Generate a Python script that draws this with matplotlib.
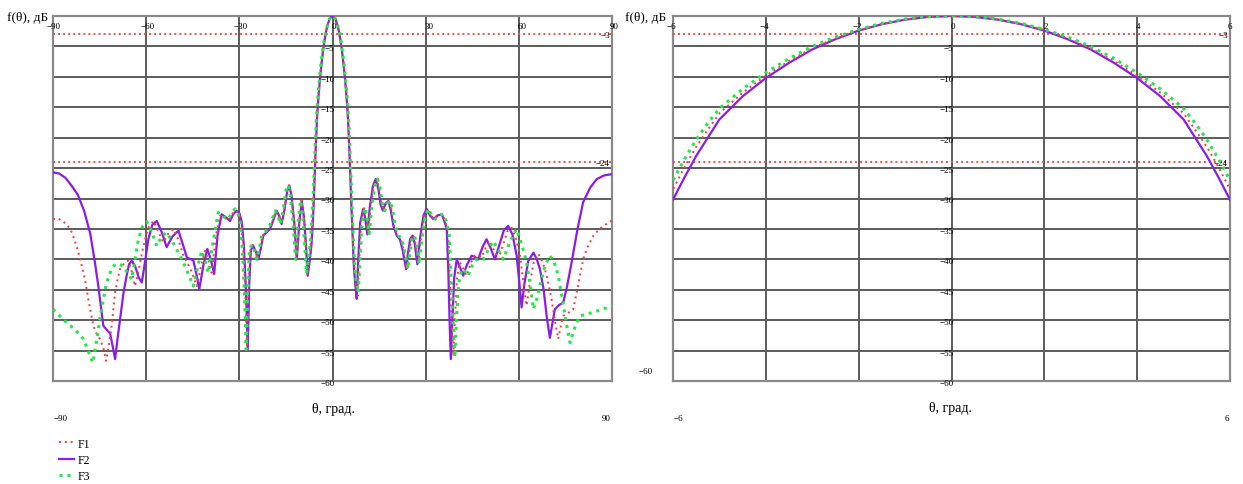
import numpy as np
import matplotlib.pyplot as plt
from matplotlib.lines import Line2D

# F2 (solid violet)
theta_f2 = [-90, -88, -86, -84, -82, -80, -78, -76.5, -75.4, -74.5, -73.8, -72.5, -71.6, -70.7, -70,
            -69.2, -68.4, -67.3, -66.3, -65.5, -64.6, -63.5, -62.4, -61.4, -60.4, -59.3, -58, -56.6,
            -55, -53.4, -51.5, -49.6, -48.2, -46.9, -45.5, -44.8, -43.8, -42.9, -41.5, -40.3, -39.2,
            -38.1, -37, -35.7, -34.5, -33, -32, -30.9, -29.9, -29.2, -28.5, -27.8, -27.3, -26.8, -26.3,
            -25.5, -24.7, -23.9, -23, -22.3, -20.1, -19, -18, -17.2, -16.4, -15.5, -14.6, -13.9, -13.2,
            -12.3, -11.5, -10.7, -9.9, -9.2, -8.5, -8, -7.4, -6.8, -6.4, -6, -5.75, -5.5, -5.25, -5,
            -4.5, -4, -3.5, -3, -2.5, -2, -1.5, -1, -0.5, 0, 0.5, 1, 1.5, 2, 2.5, 3, 3.5, 4, 4.5, 5,
            5.25, 5.5, 5.75, 6, 6.4, 6.8, 7.3, 7.8, 8.3, 8.9, 9.9, 10.6, 11.2, 12, 13, 13.9, 14.8, 15.5,
            16.2, 17.1, 18, 18.8, 19.6, 20.7, 21.7, 22.6, 23.3, 23.7, 24.3, 25, 25.8, 26.5, 27.3, 28.2,
            29.3, 30.3, 31.4, 32.5, 33.8, 35.2, 36.2, 36.8, 37.3, 37.7, 38.1, 38.6, 39.2, 40, 41.2, 42.1,
            43.2, 44.8, 45.8, 46.9, 48.3, 49.6, 50.8, 52.3, 53.8, 55.2, 56.6, 58, 59.3, 60.2, 60.9, 61.8,
            63, 64.7, 65.8, 66.8, 68, 69, 70, 70.8, 71.6, 73, 74.3, 75.5, 77, 78.9, 80.7, 83, 85.1,
            87.5, 90]
db_f2 = [-25.7, -25.9, -26.6, -27.9, -29.4, -32, -35.8, -40.5, -44.4, -48, -50.9, -51.7, -52.2, -54.5, -56.4,
         -53, -49.8, -45.5, -42.7, -40.8, -40.2, -41.2, -43, -43.8, -40.5, -36.7, -34.3, -33.7,
         -35.5, -38, -36.2, -35.3, -37.5, -39.7, -40, -40.2, -42.5, -44.9, -40.8, -38.3, -40,
         -42.4, -36, -32.6, -33, -33.7, -32.6, -32, -32.5, -33.9, -38, -46, -54.8, -44, -38.5,
         -37.8, -38.7, -40, -38, -36.1, -35, -33.5, -32, -32.8, -34.2, -32, -28.8, -27.9, -29.5,
         -34, -40, -34, -30.4, -33, -38, -42.7, -40.5, -37.8, -34.5, -30.2, -26.5, -23, -20, -17,
         -13.2, -10.2, -7.7, -5.5, -3.8, -2.4, -1.35, -0.6, -0.15, 0, -0.15, -0.6, -1.35, -2.4, -3.8, -5.5, -7.7, -10.2, -13.2, -17,
         -20, -23, -26.5, -30.2, -35, -40.5, -44, -46.5, -40, -34, -31.7, -33.5, -35.9, -31.5, -28, -26.8, -28.5, -31,
         -32, -30.8, -30.4, -32, -34.5, -36.1, -36.7, -38.5, -40.5, -41.6, -39, -36.7, -36.1, -37.5, -40.8, -36.5,
         -32.8, -31.7, -32.8, -33.4, -32.8, -32.6, -34, -35, -42, -50, -56.4, -50, -43, -40, -41.5, -42.7,
         -41, -39.4, -39.6, -40, -38, -36.7, -38, -40, -37.5, -35.2, -34.5, -36, -39.4, -44, -47.9, -44,
         -40.3, -38.9, -40, -41.6, -45, -49.5, -52.9, -50.5, -48.2, -47.5, -47.1, -44.5, -40.5, -35, -30.6, -28.2, -26.8,
         -26.2, -26.0]

# F1 (red dotted)
theta_f1 = [-90, -88.3, -85.6, -84, -82.4, -81, -79.7, -78.3, -77, -75.9, -74.9, -73.8, -72.9, -72, -71.1,
            -70, -69, -68.4, -67, -65.7, -64.6, -63.6, -62.3, -60.9, -59.3, -57.7, -56, -54.5, -52.9,
            -51.3, -49.6, -48, -45.8, -43.7, -42.3, -41, -39.9, -38.9, -37.5, -36.2, -34.8, -33.3, -32.2,
            -31.1, -30.1, -29.4, -28.7, -28, -27.5, -27, -26.5, -25.7, -24.9, -24.1, -23.2, -22.5, -20.3,
            -19.1, -18.2, -17.3, -16.5, -15.6, -14.7, -14, -13.3, -12.4, -11.6, -10.8, -10, -9.3, -8.6,
            -8.1, -7.5, -6.9, -6.5, -6, -5.75, -5.5, -5.25, -5, -4.5, -4, -3.5, -3, -2.5, -2, -1.5, -1,
            -0.5, 0, 0.5, 1, 1.5, 2, 2.5, 3, 3.5, 4, 4.5, 5, 5.25, 5.5, 5.75, 6, 6.5, 7, 7.5, 8.1, 8.6,
            9.2, 10.2, 10.9, 11.5, 12.3, 13.3, 14.2, 15.1, 15.8, 16.5, 17.4, 18.3, 19.1, 19.9, 21, 22,
            22.9, 23.6, 24, 24.6, 25.3, 26.1, 26.8, 27.6, 28.5, 29.6, 30.6, 31.7, 32.8, 34.1, 35.5, 36.5,
            37.3, 37.8, 38.3, 38.9, 39.4, 40.1, 41, 42.1, 43.2, 44.6, 45.9, 47, 48, 49.4, 50.7, 52, 53.4,
            55, 56.4, 57.7, 59, 60.4, 61.5, 62.5, 63.5, 64.8, 66.3, 67.7, 69, 70.5, 71.6, 72.7, 73.5,
            74.3, 75.9, 77.5, 79, 80.7, 82.3, 84, 85.6, 87.2, 90]
db_f1 = [-33.4, -33.3, -34.2, -35.5, -37.8, -40.5, -43.3, -47.5, -50.9, -52.3, -53.1, -54.5, -56.7, -54, -50.9,
         -45.4, -42.8, -41.6, -40.6, -40.2, -42, -44.4, -41.5, -37.8, -34.8, -33.7, -35.5, -37.2, -35.8,
         -35, -36.8, -39.4, -41.5, -44.4, -41, -38.6, -40.3, -42.2, -36, -32.8, -33.2, -33.6, -32.5,
         -32, -32.6, -34, -38.5, -46.5, -54.9, -44.5, -38.7, -37.6, -38.5, -40, -38, -36.1, -34.9,
         -33.4, -32, -32.8, -34.2, -32, -28.7, -27.8, -29.5, -34, -40, -34, -30.3, -33, -38,
         -42.5, -40, -37, -33.5, -28.5, -24.8, -21.5, -18.7, -16, -12.6, -9.8, -7.4, -5.3, -3.65, -2.3, -1.3, -0.57,
         -0.14, 0, -0.14, -0.57, -1.3, -2.3, -3.65, -5.3, -7.4, -9.8, -12.6, -16, -18.7, -21.5, -24.8, -28.5, -35.5, -40.8, -44, -46, -40,
         -34, -31.6, -33.5, -35.8, -31.5, -28, -26.8, -28.5, -31, -32, -30.8, -30.4, -32, -34.5, -36.1, -36.7,
         -38.5, -40.5, -41.6, -39, -36.7, -36.1, -37.5, -40.8, -36.5, -32.8, -31.7, -32.8, -33.4, -32.8, -32.6, -34,
         -36, -43, -50, -55.9, -50, -43, -40.5, -41.5, -42.7, -40.5, -39.4, -39.5, -39.7, -38, -37, -38.5, -40,
         -37.5, -35.3, -34.8, -36.5, -39.4, -44, -47.6, -44, -40.5, -39.1, -40.5, -42.7, -46.5, -50, -53.1, -51,
         -49.3, -48.8, -48.2, -44.5, -40, -37.8, -36.1, -35.2, -34.5, -33.6]

# F3 (green dotted)
theta_f3 = [-90, -87.8, -85.6, -83, -80.2, -78.7, -77.2, -76, -74.9, -73.8, -72.7, -71.3, -70, -68.7, -67.4,
            -66, -64.7, -63.6, -62.5, -61.2, -59.8, -58.2, -56.6, -55, -53.4, -51.3, -49.1, -46.9, -44.8,
            -43.4, -42.1, -41, -40, -38.4, -36.8, -35.2, -33.5, -32.4, -31.4, -30.4, -29.7, -29, -28.3,
            -27.8, -27.3, -26.8, -26, -25.2, -24.4, -23.5, -22.8, -20.6, -19.4, -18.5, -17.6, -16.8, -15.9,
            -15, -14.3, -13.6, -12.7, -11.9, -11.1, -10.3, -9.6, -8.9, -8.4, -7.7, -7.1, -6.6, -6, -5.75,
            -5.5, -5.25, -5, -4.5, -4, -3.5, -3, -2.5, -2, -1.5, -1, -0.5, 0, 0.5, 1, 1.5, 2, 2.5, 3, 3.5,
            4, 4.5, 5, 5.25, 5.5, 5.75, 6, 6.5, 7, 7.6, 8.3, 8.9, 9.5, 10.5, 11.2, 11.8, 12.6, 13.6, 14.5,
            15.4, 16.1, 16.8, 17.7, 18.6, 19.4, 20.2, 21.3, 22.3, 23.2, 23.9, 24.3, 24.9, 25.6, 26.4, 27.1,
            27.9, 28.8, 29.9, 30.9, 32, 33.1, 34.4, 35.8, 36.8, 37.6, 38.2, 38.8, 39.4, 39.9, 40.6, 41.6,
            42.7, 43.7, 45, 46.4, 47.5, 48.6, 50.2, 51.8, 53.4, 55, 57.2, 59.3, 60.9, 62.5, 63.6, 64.7,
            65.8, 66.8, 68.4, 70, 71.4, 72.7, 74, 75.3, 76.5, 77.5, 78.5, 79.7, 81.8, 84, 87, 90]
db_f3 = [-48.2, -49.3, -50.4, -51.5, -53.1, -55, -57, -53.5, -49.8, -46.5, -43.8, -41.8, -40.8, -40.8, -41.1,
         -42.2, -43.3, -40, -36.7, -34.6, -33.8, -35.5, -37.8, -36.2, -35.6, -37.3, -39.4, -41.8, -44.4,
         -41.2, -38.6, -40.3, -42.2, -37, -32.3, -33, -33.4, -32.3, -31.7, -32.5, -34, -38.5, -46.5,
         -54.8, -45, -38.7, -37.6, -38.5, -40, -38, -36.1, -34.9, -33.4, -32, -32.8, -34.2, -32,
         -28.7, -27.8, -29.5, -34, -40, -34, -30.3, -33, -38, -42.3, -40, -37, -33, -27, -23.5,
         -20.3, -17.6, -15.2, -12, -9.3, -7, -5, -3.45, -2.2, -1.2, -0.5, -0.13, 0, -0.13, -0.5, -1.2, -2.2, -3.45, -5, -7,
         -9.3, -12, -15.2, -17.6, -20.3, -23.5, -27, -34, -39.5, -43.5, -45.5, -40, -34, -31.5, -33.5, -35.8, -31.5, -28, -26.8,
         -28.5, -31, -32, -30.8, -30.4, -32, -34.5, -36.1, -36.7, -38.5, -40.5, -41.6, -39, -36.7, -36.1, -37.5,
         -40.8, -36.5, -32.8, -31.7, -32.8, -33.4, -32.8, -32.6, -34, -36, -43, -50, -56.1, -50, -44, -41.6,
         -42, -42.7, -41, -40, -40, -40, -38.3, -37, -38.5, -40, -37, -35, -37.5, -40.5, -44, -48.2,
         -46.5, -44.4, -41, -39.4, -40.5, -42.7, -46.5, -50.5, -53.7, -52, -50.5, -49.3, -49, -48.7, -48.2, -47.6]

levels = [-3, -24]
ylabel = "f(θ), дБ"
xlabel = "θ, град."
left_xticks = [-90, -60, -30, 0, 30, 60, 90]
right_xticks = [-6, -4, -2, 0, 2, 4, 6]
yticks = list(range(-5, -65, -5))

serif = "Liberation Serif"
c1, c2, c3 = "#ff3b3b", "#8a1cf0", "#22e84a"
PX = 72 / 100  # points per pixel


def lab(v):
    return str(v).replace("-", "\u2212")


def draw(ax, xmin, xmax, xticks):
    ax.set_xlim(xmin, xmax)
    ax.set_ylim(-60, 0)
    ax.set_xticks(xticks)
    ax.set_yticks(yticks + [0])
    ax.tick_params(length=0, labelbottom=False, labelleft=False)
    ax.grid(True, color="#5c5c5c", lw=1.4)
    for s in ax.spines.values():
        s.set_color("#8a8a8a")
        s.set_linewidth(1.6)
    for lv in levels:
        ax.axhline(lv, color="#ff4a4a", ls=(0, (1, 1.6)), lw=1.4, zorder=3)
        ax.annotate(lab(lv), (xmax, lv), xytext=(-2 * PX, -1 * PX), textcoords="offset points",
                    ha="right", va="center", fontsize=6.5, family=serif)
    ax.plot(theta_f2, db_f2, color=c2, lw=1.6, zorder=4)
    ax.plot(theta_f1, db_f1, color=c1, ls=(0, (1, 2)), lw=1.4, zorder=5)
    ax.plot(theta_f3, db_f3, color=c3, ls=(0, (1, 1.6)), lw=2.2, zorder=6)
    for t in xticks:
        dx = -6 if t < 0 else -1
        if t == xticks[-1]:
            dx = -2
        ax.annotate(lab(t), (t, 0), xytext=(dx * PX, -10 * PX), textcoords="offset points",
                    ha="left", va="center", fontsize=6.5, family=serif)
    for v in yticks:
        ax.annotate(lab(v), (0, v), xytext=(2 * PX, -2 * PX), textcoords="offset points",
                    ha="right", va="center", fontsize=6.5, family=serif)
    ax.annotate(lab(xmin), (xmin, -60), xytext=(1 * PX, -37 * PX), textcoords="offset points",
                ha="left", va="center", fontsize=6.5, family=serif, annotation_clip=False)
    ax.annotate(lab(xmax), (xmax, -60), xytext=(-1 * PX, -37 * PX), textcoords="offset points",
                ha="right", va="center", fontsize=6.5, family=serif, annotation_clip=False)


fig = plt.figure(figsize=(12.43, 4.85), dpi=100)
ax1 = fig.add_axes([53 / 1243, 1 - 382 / 485, 559 / 1243, 365 / 485])
ax2 = fig.add_axes([673 / 1243, 1 - 382 / 485, 557 / 1243, 365 / 485])
draw(ax1, -90, 90, left_xticks)
draw(ax2, -6, 6, right_xticks)

fig.text(333 / 1243, 1 - 410 / 485, xlabel, ha="center", va="center", fontsize=10, family=serif)
fig.text(950 / 1243, 1 - 409 / 485, xlabel, ha="center", va="center", fontsize=10, family=serif)
fig.text(48 / 1243, 1 - 18 / 485, ylabel, ha="right", va="center", fontsize=9.5, family=serif)
fig.text(666 / 1243, 1 - 18 / 485, ylabel, ha="right", va="center", fontsize=9.5, family=serif)
fig.text(646 / 1243, 1 - 372 / 485, lab(-60), ha="center", va="center", fontsize=6.5, family=serif)

handles = [Line2D([], [], color=c1, ls=(0, (1, 2)), lw=1.4),
           Line2D([], [], color=c2, lw=1.6),
           Line2D([], [], color=c3, ls=(0, (1, 1.6)), lw=2.2)]
fig.legend(handles, ["F1", "F2", "F3"], loc="upper left", bbox_to_anchor=(48 / 1243, 1 - 428 / 485),
           frameon=False, handlelength=1.3, handletextpad=0.3, labelspacing=0.35,
           prop={"family": serif, "size": 8.5})

fig.savefig("out.png", dpi=100)
